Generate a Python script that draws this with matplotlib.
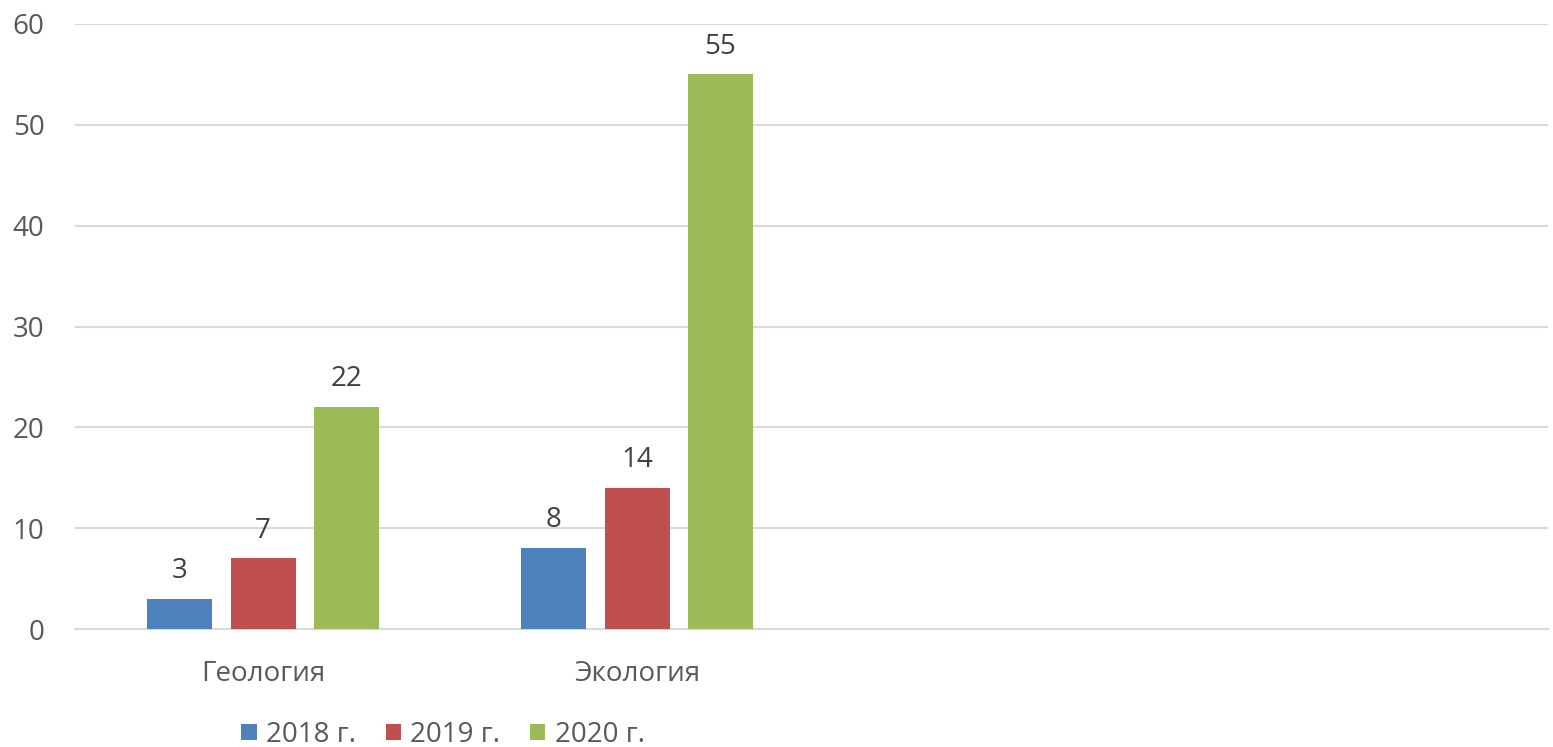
import matplotlib
matplotlib.use("Agg")
import matplotlib.pyplot as plt
import numpy as np

plt.rcParams['font.family'] = ['Open Sans', 'DejaVu Sans']

categories = ["Геология", "Экология", "", ""]
series_names = ["2018 г.", "2019 г.", "2020 г."]
values_2018 = [3, 8, None, None]
values_2019 = [7, 14, None, None]
values_2020 = [22, 55, None, None]
colors = ['#4F81BD', '#C0504D', '#9BBB59']

fig = plt.figure(figsize=(15.53, 7.47), dpi=100)
ax = fig.add_axes([75 / 1553, 1 - 629 / 747, (1548 - 75) / 1553, (629 - 24) / 747])

x = np.arange(len(categories))
width = 0.174
offsets = [-0.223, 0.0, 0.223]
for vals, name, col, off in zip([values_2018, values_2019, values_2020], series_names, colors, offsets):
    xs = [xi + off for xi, v in zip(x, vals) if v is not None]
    ys = [v for v in vals if v is not None]
    bars = ax.bar(xs, ys, width=width, color=col, label=name, zorder=3)
    for b, v in zip(bars, ys):
        ax.annotate(str(v), (b.get_x() + b.get_width() / 2, v), xytext=(0, 10),
                    textcoords='offset points', ha='center', va='bottom',
                    fontsize=20, color='#404040')

ax.set_xlim(-0.503, 3.436)
ax.set_ylim(0, 60)
ax.set_yticks(range(0, 61, 10))
ax.set_xticks(x)
ax.set_xticklabels(categories)
ax.grid(axis='y', color='#D9D9D9', linewidth=1.5, zorder=0)
for s in ['top', 'right', 'left']:
    ax.spines[s].set_visible(False)
ax.spines['bottom'].set_color('#D9D9D9')
ax.spines['bottom'].set_linewidth(1.5)
ax.tick_params(axis='both', length=0, labelsize=20, colors='#595959')
ax.tick_params(axis='y', pad=22)
ax.tick_params(axis='x', pad=22)

ax.legend(loc='lower center', bbox_to_anchor=(443 / 1553, -0.036), bbox_transform=fig.transFigure,
          ncol=3, frameon=False, fontsize=20, labelcolor='#595959',
          handlelength=0.55, handleheight=0.55, handletextpad=0.35, columnspacing=1.05)

fig.savefig("out.png", dpi=100)
